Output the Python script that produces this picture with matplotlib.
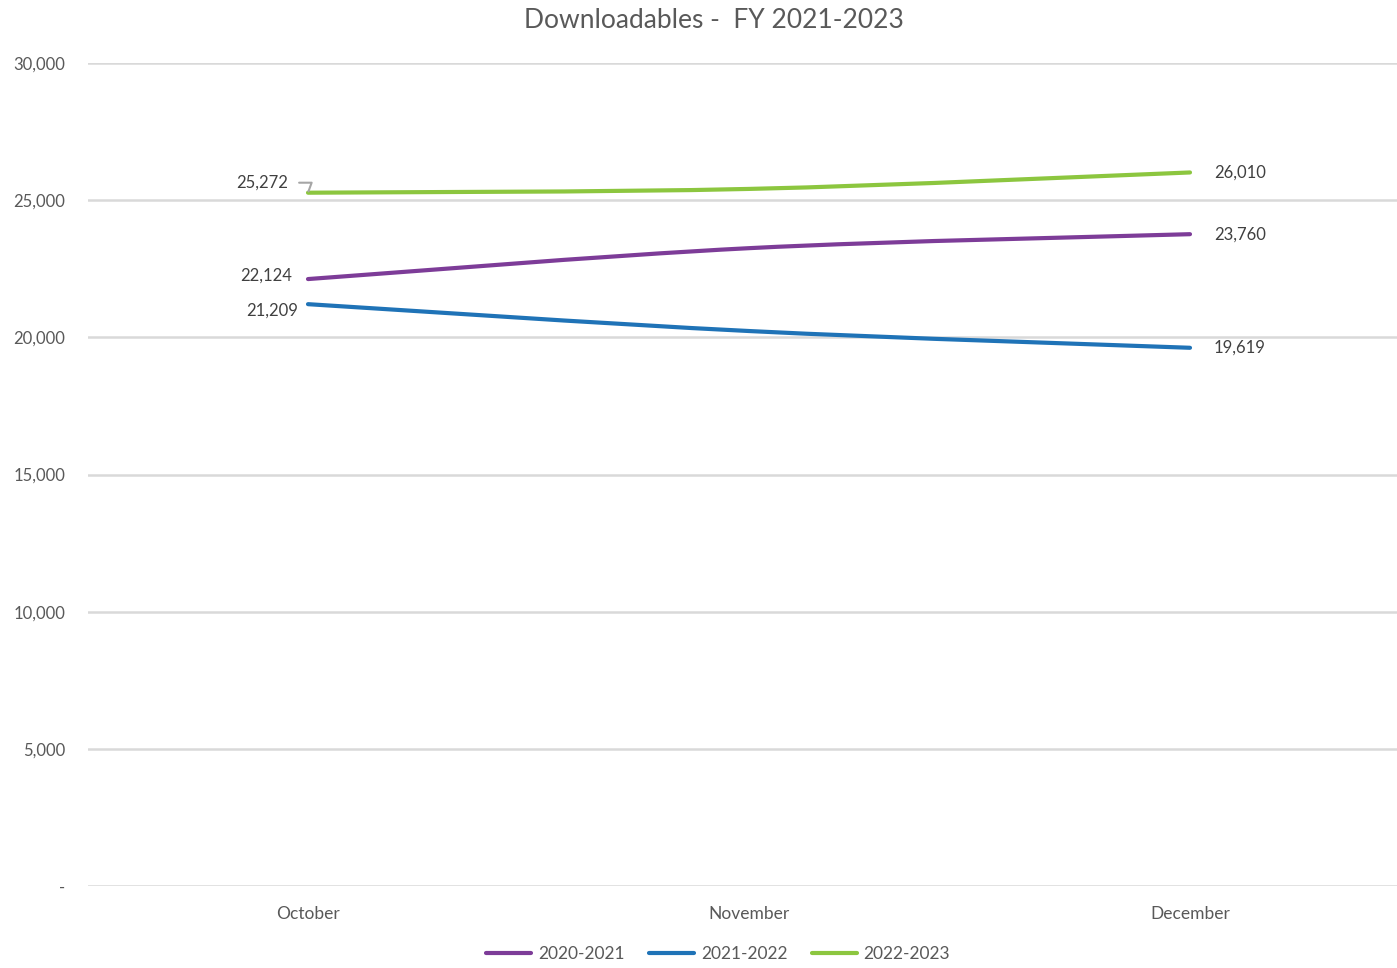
import matplotlib
matplotlib.use("Agg")
import matplotlib.pyplot as plt
from matplotlib.path import Path
from matplotlib.patches import PathPatch
from matplotlib.lines import Line2D
from matplotlib.ticker import FuncFormatter

plt.rcParams['font.family'] = ['Lato', 'DejaVu Sans']

months = ["October", "November", "December"]
series_names = ["2020-2021", "2021-2022", "2022-2023"]
fy2021 = [22124, 23250, 23760]
fy2022 = [21209, 20230, 19619]
fy2023 = [25272, 25410, 26010]
colors = ["#7D3C98", "#1F73B7", "#8CC63F"]

text_color = "#595959"
grid_color = "#D9D9D9"


def smooth_path(xs, ys, t=1 / 6):
    """Cubic Bezier path through the points, in the style of smoothed office-chart lines."""
    verts = [(xs[0], ys[0])]
    codes = [Path.MOVETO]
    n = len(xs)
    for i in range(n - 1):
        p0 = (xs[max(i - 1, 0)], ys[max(i - 1, 0)])
        p1 = (xs[i], ys[i])
        p2 = (xs[i + 1], ys[i + 1])
        p3 = (xs[min(i + 2, n - 1)], ys[min(i + 2, n - 1)])
        c1 = (p1[0] + (p2[0] - p0[0]) * t, p1[1] + (p2[1] - p0[1]) * t)
        c2 = (p2[0] - (p3[0] - p1[0]) * t, p2[1] - (p3[1] - p1[1]) * t)
        verts += [c1, c2, p2]
        codes += [Path.CURVE4] * 3
    return Path(verts, codes)


fig = plt.figure(figsize=(13.97, 9.68), dpi=100)
ax = fig.add_axes([87.5 / 1397, 82 / 968, 1323 / 1397, 823 / 968])

x = list(range(len(months)))
all_series = [fy2021, fy2022, fy2023]
for vals, c in zip(all_series, colors):
    patch = PathPatch(smooth_path(x, vals), facecolor="none", edgecolor=c,
                      lw=3.0, capstyle="round", zorder=3)
    ax.add_patch(patch)

ax.set_xlim(-0.5, 2.5)
ax.set_ylim(0, 30000)
ax.set_yticks(range(0, 30001, 5000))
ax.yaxis.set_major_formatter(FuncFormatter(lambda v, p: "-" if v == 0 else f"{int(v):,}"))
ax.set_xticks(x)
ax.set_xticklabels(months)
ax.grid(axis="y", color=grid_color, lw=1.8)
ax.set_axisbelow(True)
for s in ax.spines.values():
    s.set_visible(False)
ax.tick_params(axis="y", length=0, colors=text_color, labelsize=12, pad=16)
ax.tick_params(axis="x", length=0, colors=text_color, labelsize=12.5, pad=14.5)
for lbl in ax.get_xticklabels() + ax.get_yticklabels():
    lbl.set_color(text_color)

fig.text(714 / 1397, 1 - 21 / 968, "Downloadables -  FY 2021-2023", ha="center", va="center",
         fontsize=19, color=text_color)

lab_kw = dict(fontsize=12, color="#404040", textcoords="offset pixels")
# Data labels at the start and end of each line
ax.annotate(f"{fy2021[0]:,}", xy=(0, fy2021[0]), xytext=(-16, 3), ha="right", va="center", **lab_kw)
ax.annotate(f"{fy2022[0]:,}", xy=(0, fy2022[0]), xytext=(-10, -6), ha="right", va="center", **lab_kw)
ax.annotate(f"{fy2023[0]:,}", xy=(0, fy2023[0]), xytext=(-20, 10), ha="right", va="center",
            arrowprops=dict(arrowstyle="-", color="#A6A6A6", lw=1.5,
                            connectionstyle="angle,angleA=0,angleB=70,rad=0",
                            shrinkA=6, shrinkB=1, relpos=(1, 0.5)), **lab_kw)
for vals in all_series:
    ax.annotate(f"{vals[-1]:,}", xy=(2, vals[-1]), xytext=(24, 0), ha="left", va="center", **lab_kw)

handles = [Line2D([], [], color=c, lw=3.0, solid_capstyle="round") for c in colors]
fig.legend(handles, series_names, loc="center", bbox_to_anchor=(718 / 1397, 1 - 954 / 968),
           ncol=3, frameon=False, fontsize=12.5, labelcolor=text_color,
           handlelength=2.6, handletextpad=0.4, columnspacing=1.4)

fig.savefig("out.png", dpi=100)
